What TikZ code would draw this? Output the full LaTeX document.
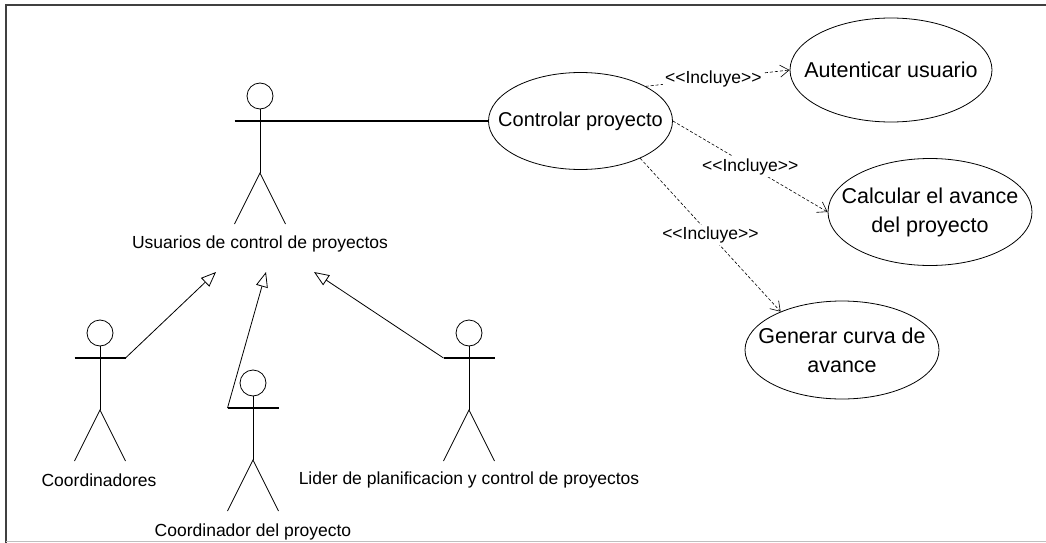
\documentclass[tikz,border=0pt]{standalone}
\usepackage{fontspec}
\setmainfont{Liberation Sans}
\usetikzlibrary{positioning,arrows.meta,shapes.geometric}
\tikzset{usecase/.style={draw, ellipse, thick, minimum width=#1, align=center, inner sep=-40pt, font=\fontsize{21.5}{29}\selectfont}}
\tikzset{actorname/.style={inner sep=0pt, font=\fontsize{17.5}{20}\selectfont}}
\tikzset{incl/.style={draw, dashed, dash pattern=on 3pt off 2pt, -{Straight Barb[length=9pt,width=12pt]}, semithick}}
\tikzset{incllabel/.style={fill=white, inner sep=2pt, font=\fontsize{17.5}{20}\selectfont}}
\tikzset{gener/.style={draw, -{Triangle[open,length=15pt,width=12pt]}, thick}}
\tikzset{actor/.pic={
	\node[draw, thick, circle, minimum size=26pt, inner sep=0pt] (-head) at (0,0) {};
	\coordinate (-larm) at (-25.5,25);
	\coordinate (-rarm) at (25.5,25);
	\coordinate (-hip) at (0,77);
	\draw[thick] (-head) -- (-hip);
	\draw[line width=1.2pt] (-larm) -- (-rarm);
	\draw[thick] (-25.5,128) -- (-hip) -- (25.5,128);
}}

\begin{document}
\begin{tikzpicture}[x=1pt, y=-1pt]
	\useasboundingbox (0,0) rectangle (1046,543);
	\draw[line width=1.6pt, black!75] (6,543) -- (6,5) -- (1046,5);
	\draw[black!25] (6,541.5) -- (1046,541.5);

	\pic (usuarios) at (260,96) {actor};
	\pic (coords) at (100,333) {actor};
	\pic (coordp) at (253,383) {actor};
	\pic (lider) at (469,333) {actor};
	\node[actorname] (usuariosname) at (260,244) {Usuarios de control de proyectos};
	\node[actorname] (coordsname) at (99,480) {Coordinadores};
	\node[actorname] (coordpname) at (253,532) {Coordinador del proyecto};
	\node[actorname] (lidername) at (469,480) {Lider de planificacion y control de proyectos};

	\node[usecase=184pt, minimum height=97pt, font=\fontsize{20}{24}\selectfont] (controlar) at (580.5,121) {Controlar proyecto};
	\node[usecase=202pt, minimum height=104pt] (autenticar) at (891,70) {Autenticar usuario};
	\node[usecase=204pt, minimum height=107pt] (calcular) at (930,212) {Calcular el avance\\del proyecto};
	\node[usecase=194pt, minimum height=98pt] (generar) at (842,350) {Generar curva de\\avance};

	\coordinate (tipa) at (216,272);
	\coordinate (tipb) at (266,272);
	\coordinate (tipc) at (314,272);
	\draw[gener] (coords-rarm) -- (tipa);
	\draw[gener] (coordp-larm) -- (tipb);
	\draw[gener] (lider-larm) -- (tipc);
	\draw[line width=1.2pt] (usuarios-rarm) -- (controlar.west);

	\draw[incl] (controlar.28) -- node[incllabel, pos=0.47] (inclua) {<{}<Incluye>{}>} (autenticar.west);
	\draw[incl] (controlar.east) -- node[incllabel, pos=0.5] (inclub) {<{}<Incluye>{}>} (calcular.west);
	\draw[incl] (controlar.-32) -- node[incllabel, pos=0.5] (incluc) {<{}<Incluye>{}>} (generar.148);
\end{tikzpicture}
\end{document}
